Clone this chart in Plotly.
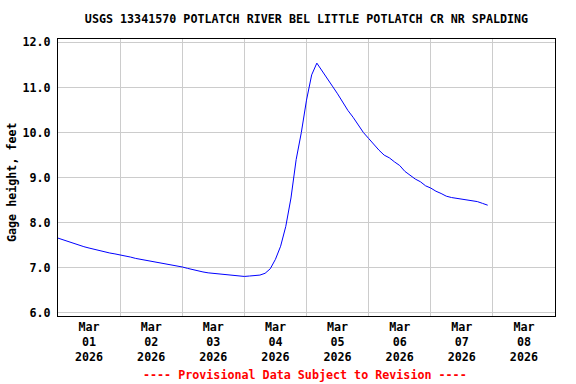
import plotly.graph_objects as go
import pandas as pd

# Gage height readings, every 2 hours starting 2026-03-01 00:00
start_time = "2026-03-01 00:00"
step_hours = 2
gage_height_ft = [
    7.66, 7.62, 7.58, 7.54, 7.51, 7.47, 7.44, 7.41, 7.38, 7.35,
    7.33, 7.31, 7.29, 7.26, 7.24, 7.21, 7.19, 7.16, 7.15, 7.13,
    7.11, 7.08, 7.06, 7.04, 7.02, 6.99, 6.96, 6.93, 6.91, 6.89,
    6.88, 6.87, 6.86, 6.85, 6.84, 6.82, 6.81, 6.82, 6.83, 6.84,
    6.88, 6.98, 7.19, 7.48, 7.92, 8.55, 9.40, 10.00, 10.72, 11.28,
    11.54, 11.36, 11.20, 11.03, 10.86, 10.66, 10.49, 10.34, 10.17, 10.00,
    9.87, 9.73, 9.61, 9.50, 9.44, 9.35, 9.27, 9.14, 9.05, 8.97,
    8.91, 8.82, 8.77, 8.70, 8.65, 8.59, 8.56, 8.54, 8.52, 8.51,
    8.49, 8.47, 8.43, 8.39,
]
times = pd.date_range(start_time, periods=len(gage_height_ft), freq=f"{step_hours}h")

title_text = "USGS 13341570 POTLATCH RIVER BEL LITTLE POTLATCH CR NR SPALDING"
y_title = "Gage height, feet"
footer = "---- Provisional Data Subject to Revision ----"
x_range = ["2026-03-01 00:00", "2026-03-09 00:00"]
y_range = [5.933, 12.075]
y_ticks = [6.0, 7.0, 8.0, 9.0, 10.0, 11.0, 12.0]

FONT = "DejaVu Sans Mono"
fsize = 11.7

W, H = 576, 384

fig = go.Figure()
fig.add_trace(go.Scatter(
    x=times, y=gage_height_ft, mode="lines",
    line=dict(color="#0000ff", width=1),
    hoverinfo="skip", showlegend=False,
))

fig.update_layout(
    width=W, height=H,
    margin=dict(l=58, r=21, t=39, b=68),
    paper_bgcolor="white", plot_bgcolor="white",
    font=dict(family=FONT, size=fsize, color="black", weight=700),
    title=dict(text=title_text, x=0.5, xanchor="center", xref="paper",
               y=1 - 19 / H, yref="container", yanchor="middle",
               font=dict(family=FONT, size=fsize, color="black", weight=700)),
    xaxis=dict(
        type="date", range=x_range,
        tick0="2026-03-01", dtick=86400000,
        ticklabelmode="period", tickformat="%b<br>%d<br>%Y",
        showgrid=True, gridcolor="#cccccc", gridwidth=1,
        showline=True, linecolor="black", linewidth=1, mirror=True,
        ticks="", zeroline=False,
        tickfont=dict(family=FONT, size=fsize, color="black", weight=700),
    ),
    yaxis=dict(
        range=y_range, tickvals=y_ticks,
        ticktext=[f"{v:.1f}" for v in y_ticks],
        showgrid=True, gridcolor="#cccccc", gridwidth=1,
        showline=True, linecolor="black", linewidth=1, mirror=True,
        ticks="", zeroline=False, ticklabelstandoff=4,
        tickfont=dict(family=FONT, size=fsize, color="black", weight=700),
    ),
    annotations=[
        dict(text=y_title, xref="paper", yref="paper",
             x=(12 - 58) / 497, y=(316 - 182) / 277,
             xanchor="center", yanchor="middle", textangle=-90, showarrow=False,
             font=dict(family=FONT, size=fsize, color="black", weight=700)),
        dict(text=footer, xref="paper", yref="paper",
             x=(305 - 58) / 497, y=(316 - 375) / 277,
             xanchor="center", yanchor="middle", showarrow=False,
             font=dict(family=FONT, size=fsize, color="#ff0000", weight=700)),
    ],
)

fig.write_html("out.html",
               config={"displayModeBar": False},
               post_script="document.body.style.margin='0';document.body.style.overflow='hidden';")
